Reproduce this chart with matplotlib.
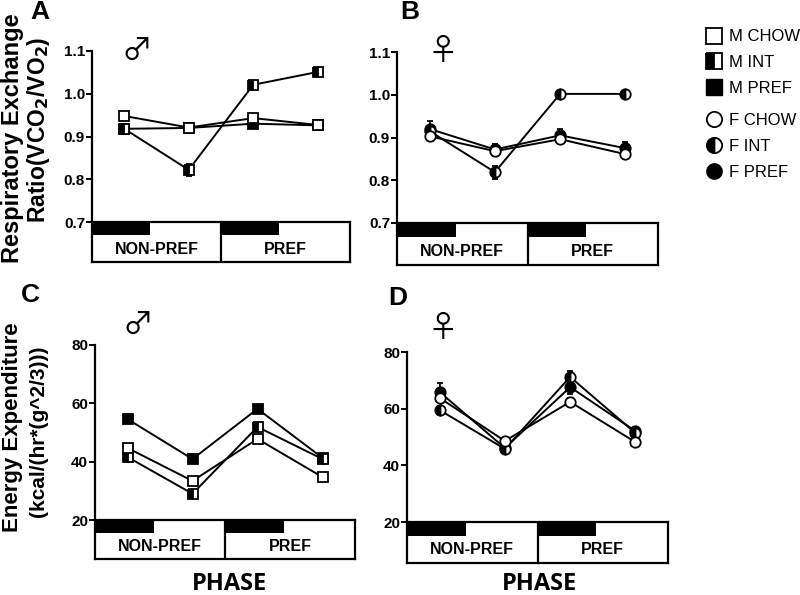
import numpy as np
import matplotlib
matplotlib.use('Agg')
import matplotlib.pyplot as plt
from matplotlib.patches import Rectangle
from matplotlib.lines import Line2D

plt.rcParams['font.family'] = ['Liberation Sans', 'DejaVu Sans']

phases = ['NON-PREF', 'PREF']
xpos = [0.5, 1.5, 2.5, 3.5]

# RER, male
m_chow_rer = [0.948, 0.921, 0.943, 0.927]
m_int_rer = [0.918, 0.822, 1.021, 1.051]
m_pref_rer = [0.918, 0.920, 0.930, 0.926]
m_chow_rer_err = [0.006, 0.005, 0.006, 0.004]
m_int_rer_err = [0.006, 0.014, 0.006, 0.005]
m_pref_rer_err = [0.007, 0.005, 0.006, 0.004]

# RER, female
f_chow_rer = [0.903, 0.868, 0.896, 0.861]
f_int_rer = [0.915, 0.819, 1.002, 1.002]
f_pref_rer = [0.920, 0.872, 0.905, 0.875]
f_chow_rer_err = [0.006, 0.010, 0.008, 0.008]
f_int_rer_err = [0.010, 0.015, 0.004, 0.006]
f_pref_rer_err = [0.018, 0.012, 0.015, 0.015]

# energy expenditure, male
m_chow_ee = [44.7, 33.4, 47.8, 34.7]
m_int_ee = [41.6, 29.0, 51.9, 40.9]
m_pref_ee = [54.6, 40.9, 58.1, 41.3]
m_chow_ee_err = [1.0, 1.0, 1.2, 0.8]
m_int_ee_err = [1.2, 1.0, 1.5, 1.0]
m_pref_ee_err = [1.0, 0.8, 1.0, 0.8]

# energy expenditure, female
f_chow_ee = [63.8, 48.6, 62.4, 48.2]
f_int_ee = [59.5, 45.8, 71.2, 51.4]
f_pref_ee = [65.9, 46.1, 67.6, 52.1]
f_chow_ee_err = [1.5, 1.2, 1.5, 1.0]
f_int_ee_err = [1.5, 1.2, 2.0, 1.0]
f_pref_ee_err = [3.0, 1.5, 2.5, 1.2]

W, H = 800, 595
fig = plt.figure(figsize=(8, 5.95), dpi=100)


def box(l, r, top, bot):
    return [l / W, 1 - bot / H, (r - l) / W, (bot - top) / H]


def panel(px, ptop, pbot, bbot, ylim, yticks, ticklabels, series, marker, symbol, sym_xy):
    l, r = px
    ax = fig.add_axes(box(l, r, ptop, pbot))
    for vals, errs, fs in series:
        ax.errorbar(xpos, vals, yerr=errs, color='black', lw=1.4,
                    marker=marker, ms=7.5, mfc='white' if fs == 'none' else 'black',
                    mec='black', mew=1.3, fillstyle='left' if fs == 'left' else 'full',
                    markerfacecoloralt='white', capsize=2.5, elinewidth=1.2, zorder=3)
    ax.set_xlim(0, 4)
    ax.set_ylim(*ylim)
    ax.set_yticks(yticks)
    ax.set_yticklabels(ticklabels, fontsize=11, fontweight='bold')
    ax.set_xticks([])
    for s in ['top', 'right', 'bottom']:
        ax.spines[s].set_visible(False)
    ax.spines['left'].set_linewidth(1.6)
    ax.tick_params(axis='y', direction='out', length=4, width=1.4, pad=1)
    ax.patch.set_alpha(0)
    ax.text(sym_xy[0], sym_xy[1], symbol, transform=ax.get_xaxis_transform(),
            fontsize=22, ha='center', va='center', family=['Noto Sans CJK JP', 'DejaVu Sans'])

    bx = fig.add_axes(box(l, r, pbot, bbot))
    bx.set_xlim(0, 4)
    bx.set_ylim(0, 1)
    bx.set_xticks([])
    bx.set_yticks([])
    for s in bx.spines.values():
        s.set_linewidth(1.6)
    bx.axvline(2, color='black', lw=1.6)
    for x0 in [0, 2]:
        bx.add_patch(Rectangle((x0, 0.67), 0.9, 0.33, color='black', lw=0))
    for i, p in enumerate(phases):
        bx.text(1 + 2 * i, 0.32, p, ha='center', va='center', fontsize=11.5, fontweight='bold')
    return ax, bx


rer_ticks = [0.7, 0.8, 0.9, 1.0, 1.1]
rer_labels = ['0.7', '0.8', '0.9', '1.0', '1.1']
ee_ticks = [20, 40, 60, 80]
ee_labels = ['20', '40', '60', '80']

axA, bxA = panel((92, 350), 51, 222, 262, (0.7, 1.1), rer_ticks, rer_labels,
                 [(m_pref_rer, m_pref_rer_err, 'full'), (m_int_rer, m_int_rer_err, 'left'),
                  (m_chow_rer, m_chow_rer_err, 'none')], 's', '\u2642', (0.70, 1.0))
axB, bxB = panel((397, 658), 52, 223, 265, (0.7, 1.1), rer_ticks, rer_labels,
                 [(f_pref_rer, f_pref_rer_err, 'full'), (f_int_rer, f_int_rer_err, 'left'),
                  (f_chow_rer, f_chow_rer_err, 'none')], 'o', '\u2640', (0.70, 1.0))
axC, bxC = panel((95, 355), 345, 520, 559, (20, 80), ee_ticks, ee_labels,
                 [(m_pref_ee, m_pref_ee_err, 'full'), (m_int_ee, m_int_ee_err, 'left'),
                  (m_chow_ee, m_chow_ee_err, 'none')], 's', '\u2642', (0.65, 1.11))
axD, bxD = panel((407, 668), 352, 522, 563, (20, 80), ee_ticks, ee_labels,
                 [(f_pref_ee, f_pref_ee_err, 'full'), (f_int_ee, f_int_ee_err, 'left'),
                  (f_chow_ee, f_chow_ee_err, 'none')], 'o', '\u2640', (0.55, 1.14))

# y labels, one text per line
ylab_kw = dict(rotation=90, ha='center', va='center', fontweight='bold')
fig.text(13 / W, 1 - 138 / H, 'Respiratory Exchange', fontsize=17, **ylab_kw)
fig.text(39 / W, 1 - 130 / H, 'Ratio(VCO$_\\mathbf{2}$/VO$_\\mathbf{2}$)', fontsize=16.5, **ylab_kw)
fig.text(13 / W, 1 - 427 / H, 'Energy Expenditure', fontsize=16, **ylab_kw)
fig.text(39 / W, 1 - 431 / H, '(kcal/(hr*(g^2/3)))', fontsize=15, **ylab_kw)

# panel letters
for lab, x, y in [('A', 40, 12), ('B', 410, 12), ('C', 30, 295), ('D', 398, 298)]:
    fig.text(x / W, 1 - y / H, lab, fontsize=19, fontweight='bold', ha='center', va='center')

fig.text(230 / W, 1 - 584 / H, 'PHASE', fontsize=17, fontweight='bold', ha='center',
         va='center', family='Open Sans')
fig.text(540 / W, 1 - 584 / H, 'PHASE', fontsize=17, fontweight='bold', ha='center',
         va='center', family='Open Sans')

# legends
sq = [Line2D([], [], ls='none', marker='s', ms=11, mec='black', mew=1.3, mfc='white'),
      Line2D([], [], ls='none', marker='s', ms=11, mec='black', mew=1.3, fillstyle='left',
             mfc='black', markerfacecoloralt='white'),
      Line2D([], [], ls='none', marker='s', ms=11, mec='black', mfc='black')]
ci = [Line2D([], [], ls='none', marker='o', ms=11, mec='black', mew=1.3, mfc='white'),
      Line2D([], [], ls='none', marker='o', ms=11, mec='black', mew=1.3, fillstyle='left',
             mfc='black', markerfacecoloralt='white'),
      Line2D([], [], ls='none', marker='o', ms=11, mec='black', mfc='black')]
fig.legend(sq, ['M CHOW', 'M INT', 'M PREF'], loc='upper left',
           bbox_to_anchor=(697 / W, 1 - 21 / H), frameon=False, fontsize=12,
           handlelength=1.0, handletextpad=0.4, labelspacing=0.65, borderpad=0)
fig.legend(ci, ['F CHOW', 'F INT', 'F PREF'], loc='upper left',
           bbox_to_anchor=(697 / W, 1 - 105 / H), frameon=False, fontsize=12,
           handlelength=1.0, handletextpad=0.4, labelspacing=0.65, borderpad=0)

fig.savefig('out.png', dpi=100)
